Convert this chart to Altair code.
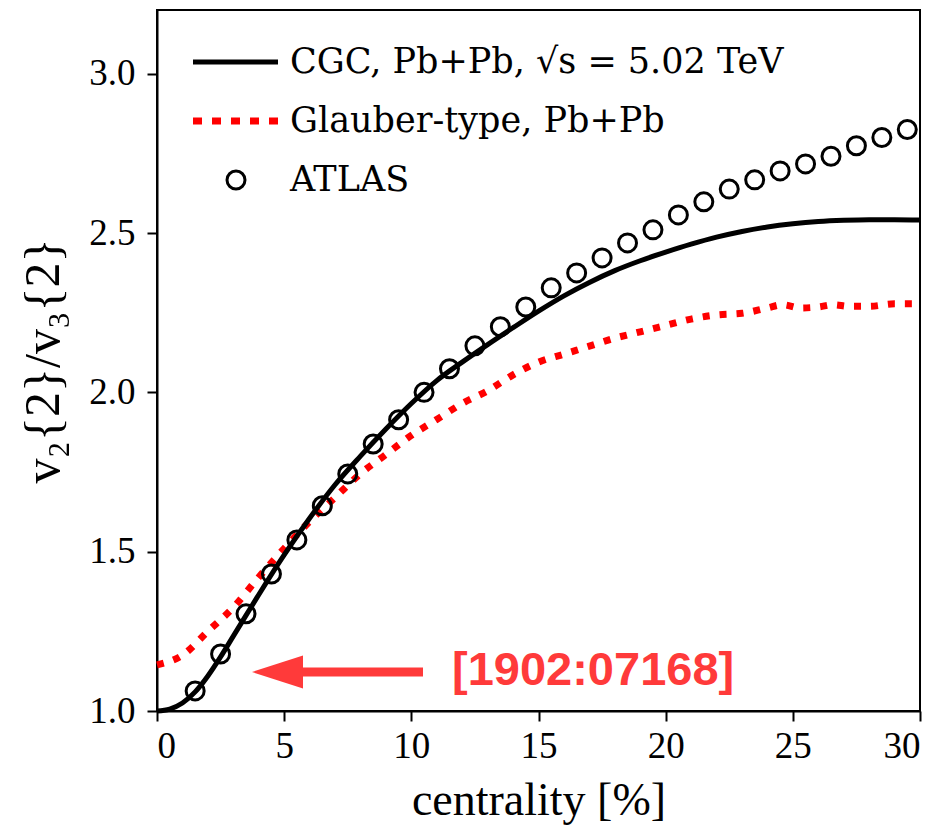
import altair as alt
import pandas as pd

# ---- data ----
cgc_x = [0, 0.5, 1, 1.5, 2, 2.5, 3, 3.5, 4, 5, 6, 7, 8, 9, 10, 11, 12, 13, 14, 15,
         16, 17, 18, 19, 20, 21, 22, 23, 24, 25, 26, 27, 28, 29, 30]
cgc_y = [1.0, 1.006, 1.025, 1.06, 1.11, 1.17, 1.235, 1.3, 1.365, 1.49, 1.605, 1.71,
         1.80, 1.885, 1.965, 2.037, 2.095, 2.15, 2.203, 2.255, 2.303, 2.345, 2.382,
         2.413, 2.44, 2.465, 2.487, 2.505, 2.519, 2.529, 2.536, 2.54, 2.542, 2.542, 2.541]

glauber_x = [0, 1, 2, 3, 4, 5, 6, 7, 8, 9, 10, 11, 12, 13, 14, 15, 16, 17, 18, 19,
             20, 21, 22, 23, 24, 24.6, 25.3, 26, 26.6, 27.2, 28, 29, 30]
glauber_y = [1.145, 1.175, 1.25, 1.325, 1.42, 1.51, 1.595, 1.67, 1.745, 1.805, 1.865,
             1.915, 1.965, 2.005, 2.055, 2.095, 2.12, 2.145, 2.17, 2.19, 2.21, 2.23,
             2.243, 2.248, 2.265, 2.275, 2.265, 2.268, 2.275, 2.27, 2.27, 2.278, 2.278]

atlas_x = [1.5, 2.5, 3.5, 4.5, 5.5, 6.5, 7.5, 8.5, 9.5, 10.5, 11.5, 12.5, 13.5, 14.5,
           15.5, 16.5, 17.5, 18.5, 19.5, 20.5, 21.5, 22.5, 23.5, 24.5, 25.5, 26.5,
           27.5, 28.5, 29.5]
atlas_y = [1.063, 1.179, 1.305, 1.43, 1.537, 1.644, 1.744, 1.838, 1.914, 2.0, 2.074,
           2.146, 2.206, 2.268, 2.328, 2.375, 2.422, 2.469, 2.51, 2.557, 2.598, 2.638,
           2.667, 2.695, 2.717, 2.741, 2.774, 2.80, 2.825]

legend_labels = ["CGC, Pb+Pb, \u221as = 5.02 TeV", "Glauber-type, Pb+Pb", "ATLAS"]
x_ticks = [0, 5, 10, 15, 20, 25, 30]
y_ticks = [1.0, 1.5, 2.0, 2.5, 3.0]
annotation_text = ["[1902:07168]"]

x_title = "centrality [%]"
y_title = "v\u2082{2}/v\u2083{2}"

RED = "#ff0000"
ARROW_RED = "#ff3a3a"
SERIF = "Liberation Serif"
LEG_FONT = "DejaVu Serif"

cgc_df = pd.DataFrame({"x": cgc_x, "y": cgc_y})
gl_df = pd.DataFrame({"x": glauber_x, "y": glauber_y})
at_df = pd.DataFrame({"x": atlas_x, "y": atlas_y})

xs = alt.Scale(domain=[0, 30], nice=False, zero=False)
ys = alt.Scale(domain=[1.0, 3.2], nice=False, zero=False)
X = alt.X("x:Q", scale=xs, axis=alt.Axis(values=x_ticks, format="d", title=x_title))
Y = alt.Y("y:Q", scale=ys, axis=alt.Axis(values=y_ticks, format=".1f", title=y_title,
                                         titleFontSize=50))

glauber = alt.Chart(gl_df).mark_line(
    color=RED, strokeWidth=7, strokeDash=[7, 10], strokeCap="butt", interpolate="monotone"
).encode(x=X, y=Y, order="x:Q")

cgc = alt.Chart(cgc_df).mark_line(
    color="black", strokeWidth=5, interpolate="monotone"
).encode(x=X, y=Y, order="x:Q")

atlas = alt.Chart(at_df).mark_point(
    shape="circle", filled=False, size=324, strokeWidth=3, color="black", opacity=1
).encode(x=X, y=Y)

# ---- manual legend (pixel positions inside the plot area) ----
def lab(i):
    return pd.DataFrame({"label": [legend_labels[i]]})

leg1_line = alt.Chart(lab(0)).mark_rule(color="black", strokeWidth=5).encode(
    x=alt.value(36), x2=alt.value(121), y=alt.value(52))
leg2_line = alt.Chart(lab(1)).mark_rule(
    color=RED, strokeWidth=7, strokeDash=[9, 10], strokeCap="butt").encode(
    x=alt.value(36), x2=alt.value(121), y=alt.value(111))
leg3_pt = alt.Chart(lab(2)).mark_point(
    shape="circle", filled=False, size=324, strokeWidth=3, color="black", opacity=1).encode(
    x=alt.value(79), y=alt.value(170))

def leg_text(i, y):
    return alt.Chart(lab(i)).mark_text(
        font=LEG_FONT, fontSize=35, color="black", align="left", baseline="middle"
    ).encode(x=alt.value(133), y=alt.value(y), text="label:N")

leg_texts = [leg_text(0, 52), leg_text(1, 111), leg_text(2, 170)]

# ---- red arrow annotation ----
ann_df = pd.DataFrame({"label": annotation_text})
arrow_shaft = alt.Chart(ann_df).mark_rule(color=ARROW_RED, strokeWidth=9, strokeCap="butt").encode(
    x=alt.value(140), x2=alt.value(266), y=alt.value(662))
arrow_head = alt.Chart(ann_df).mark_point(
    shape="M -1 0 L 1 -0.65 L 1 0.65 Z", filled=True, size=2601, color=ARROW_RED,
    opacity=1, strokeWidth=0).encode(x=alt.value(120.5), y=alt.value(662))
arrow_text = alt.Chart(ann_df).mark_text(
    font="Liberation Sans", fontWeight="bold", fontSize=47, color=ARROW_RED,
    align="left", baseline="middle").encode(x=alt.value(295), y=alt.value(661), text="label:N")

chart = alt.layer(
    glauber, cgc, atlas,
    leg1_line, leg2_line, leg3_pt, *leg_texts,
    arrow_shaft, arrow_head, arrow_text,
).properties(
    width=763, height=701,
    autosize=alt.AutoSizeParams(type="none"),
    padding={"left": 157, "top": 10, "right": 26, "bottom": 121},
    background="white",
).configure_view(
    stroke="black", strokeWidth=2
).configure_axis(
    grid=False,
    domainColor="black", domainWidth=2,
    tickColor="black", tickWidth=2, tickSize=10,
    labelFont=SERIF, labelFontSize=37, labelColor="black",
    titleFont=SERIF, titleFontSize=46, titleFontWeight="normal", titleColor="black",
).configure_axisX(
    labelPadding=7, titlePadding=14
).configure_axisY(
    labelPadding=12, titlePadding=20
)

chart.save("out.html", embed_options={"renderer": "svg", "actions": False})
